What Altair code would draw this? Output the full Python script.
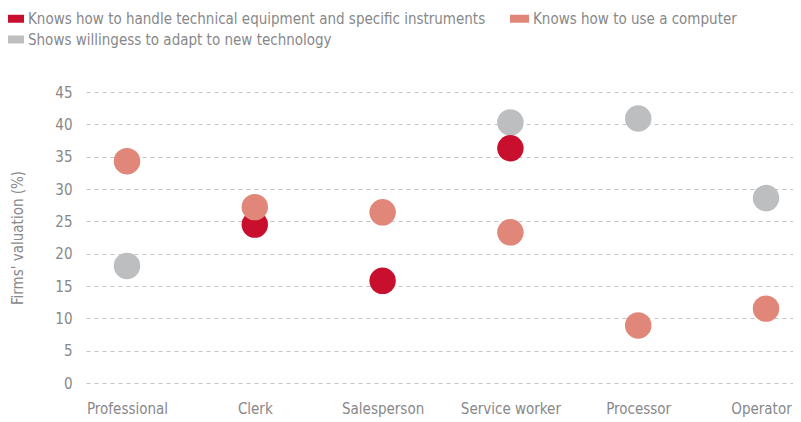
import altair as alt
import pandas as pd

categories = ["Professional", "Clerk", "Salesperson", "Service worker", "Processor", "Operator"]
series = [
    "Knows how to handle technical equipment and specific instruments",
    "Knows how to use a computer",
    "Shows willingess to adapt to new technology",
]
colors = ["#C8102E", "#E0877A", "#BDBEC0"]
draw_order = [1, 2, 0]

technical = [None, 24.5, 15.8, 36.3, None, None]
computer = [34.3, 27.2, 26.4, 23.3, 8.9, 11.5]
willingness = [18.1, None, None, 40.3, 40.9, 28.6]

rows = []
for s, vals, o in zip(series, [technical, computer, willingness], draw_order):
    for c, v in zip(categories, vals):
        if v is not None:
            rows.append({"category": c, "series": s, "value": v, "order": o})
df = pd.DataFrame(rows)

font = "DejaVu Sans Condensed, Liberation Sans Narrow, sans-serif"
textc = "#87888a"

chart = alt.Chart(df).mark_circle(opacity=1, size=700).encode(
    x=alt.X("category:N", sort=categories, title=None,
            scale=alt.Scale(type="point", padding=0.266, align=0.603),
            axis=alt.Axis(labelAngle=0, domain=False, ticks=False, grid=False,
                          labelFontSize=15, labelColor=textc, labelPadding=18, labelFont=font,
                          labelOffset={"condition": {"test": "datum.value === 'Operator'", "value": -5},
                                       "value": 0})),
    y=alt.Y("value:Q", title="Firms' valuation (%)",
            scale=alt.Scale(domain=[0, 45]),
            axis=alt.Axis(values=list(range(0, 46, 5)), domain=False, ticks=False,
                          gridDash=[4, 4], gridColor="#c4c4c4", labelFontSize=15,
                          labelColor=textc, labelPadding=14, labelFont=font,
                          titleFontSize=15, titleColor=textc, titleFontWeight="normal",
                          titleFont=font, titlePadding=29)),
    color=alt.Color("series:N", sort=series,
                    scale=alt.Scale(domain=series, range=colors),
                    legend=alt.Legend(title=None, orient="none", legendX=-82, legendY=-84,
                                      direction="horizontal", columns=2,
                                      symbolType="M-1,-0.42H1V0.42H-1Z", symbolSize=361,
                                      symbolOpacity=1, labelFontSize=15, labelColor=textc,
                                      labelFont=font, labelOffset=3, columnPadding=23,
                                      rowPadding=2, labelLimit=600)),
    order=alt.Order("order:Q"),
).properties(
    width=707, height=291,
    autosize=alt.AutoSizeParams(type="none"),
    padding={"left": 78, "top": 84, "right": 0, "bottom": 39},
).configure_view(stroke=None)

chart.save("out.html", embed_options={"renderer": "svg", "actions": False})
